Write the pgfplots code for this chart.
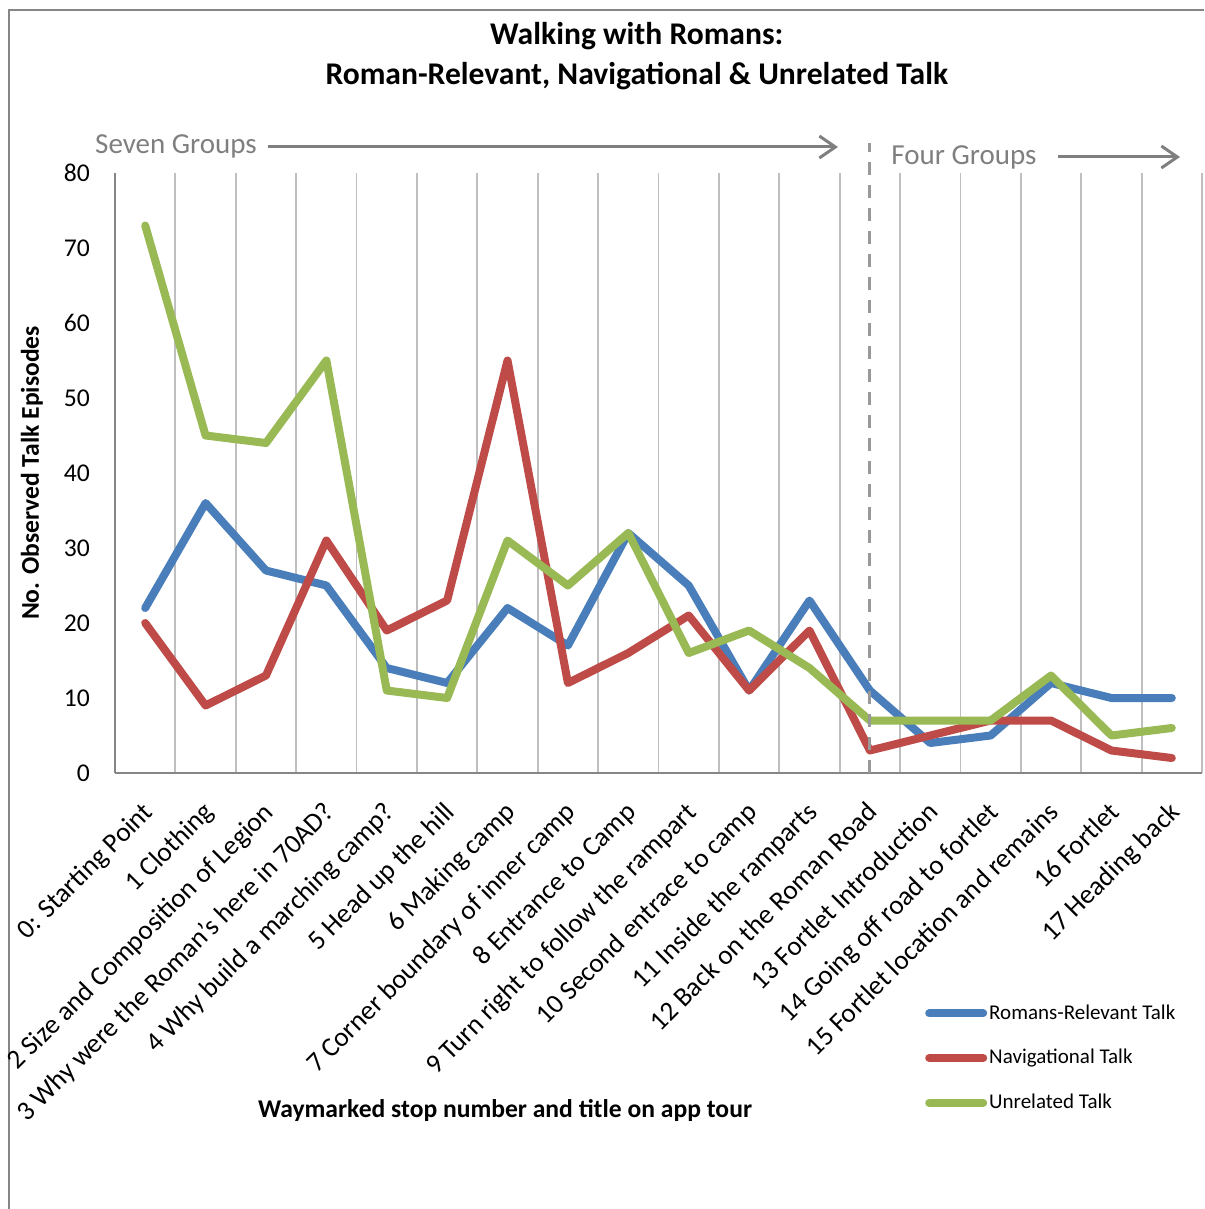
\documentclass[border=0pt]{standalone}
\usepackage{pgfplots}
\pgfplotsset{compat=1.18}
\usepackage{fontspec}
\setmainfont{Carlito}
\usetikzlibrary{arrows.meta}
\definecolor{cblue}{HTML}{4A7EBB}
\definecolor{cred}{HTML}{BE4B48}
\definecolor{cgreen}{HTML}{98B954}
\definecolor{gridgray}{HTML}{BFBFBF}
\definecolor{axisgray}{HTML}{868686}
\definecolor{anngray}{HTML}{7F7F7F}
\begin{document}
\begin{tikzpicture}
\path[use as bounding box] (0,0) rectangle (602pt,-604.5pt);
\draw[axisgray, line width=1pt] (4.5pt,-604.5pt) -- (4.5pt,-5pt) -- (602pt,-5pt);
\begin{axis}[
  at={(57.5pt,-386.5pt)}, anchor=south west,
  scale only axis, width=543.5pt, height=300pt,
  xmin=-0.5, xmax=17.5, ymin=0, ymax=80,
  clip=false,
  axis lines*=left,
  axis line style={axisgray, line width=1pt},
  xtick={0,...,17},
  xticklabels={
    {0: Starting Point},
    {1 Clothing},
    {2 Size and Composition of Legion},
    {3 Why were the Roman's here in 70AD?},
    {4 Why build a marching camp?},
    {5 Head up the hill},
    {6 Making camp},
    {7 Corner boundary of inner camp},
    {8 Entrance to Camp},
    {9 Turn right to follow the rampart},
    {10 Second entrace to camp},
    {11 Inside the ramparts},
    {12 Back on the Roman Road},
    {13 Fortlet Introduction},
    {14 Going off road to fortlet},
    {15 Fortlet location and remains},
    {16 Fortlet},
    {17 Heading back}},
  minor xtick={-0.5,0.5,...,17.5},
  xminorgrids,
  minor grid style={gridgray, line width=0.9pt},
  major tick length=0pt, minor tick length=0pt,
  ytick={0,10,...,80},
  /pgf/number format/assume math mode=true,
  tick label style={font=\fontsize{12.8}{14}\selectfont, black},
  xticklabel style={font=\fontsize{13.6}{15}\selectfont, rotate=45, anchor=north east, inner sep=1pt, xshift=-10pt, yshift=-7pt},
  yticklabel style={xshift=-9pt},
  title={Walking with Romans:\\Roman-Relevant, Navigational \& Unrelated Talk},
  title style={at={(axis description cs:0.48,1.175)}, anchor=center, align=center, font=\fontsize{15.8}{20}\selectfont\bfseries},
  xlabel={Waymarked stop number and title on app tour},
  every axis x label/.style={at={(axis description cs:0.3588,-0.5617)}, anchor=center, font=\fontsize{12.8}{14}\selectfont\bfseries},
  ylabel={No. Observed Talk Episodes},
  every axis y label/.style={at={(axis description cs:-0.0764,0.5)}, rotate=90, anchor=center, font=\fontsize{12.8}{14}\selectfont\bfseries},
  legend style={at={(axis description cs:0.745,-0.382)}, anchor=north west, draw=none, fill=none,
    font=\fontsize{10.5}{12}\selectfont, row sep=11.5pt, inner sep=0pt,
    nodes={inner sep=1pt, anchor=west}},
  legend cell align=left,
  legend image code/.code={\draw[#1, line width=4pt, line cap=round] (0pt,0pt) -- (27pt,0pt);},
  every axis plot/.append style={line width=4pt, line cap=round, line join=round, mark=none},
]
\addplot[cblue] coordinates {(0,22) (1,36) (2,27) (3,25) (4,14) (5,12) (6,22) (7,17) (8,32) (9,25) (10,11) (11,23) (12,11) (13,4) (14,5) (15,12) (16,10) (17,10)};
\addlegendentry{Romans-Relevant Talk}
\addplot[cred] coordinates {(0,20) (1,9) (2,13) (3,31) (4,19) (5,23) (6,55) (7,12) (8,16) (9,21) (10,11) (11,19) (12,3) (13,5) (14,7) (15,7) (16,3) (17,2)};
\addlegendentry{Navigational Talk}
\addplot[cgreen] coordinates {(0,73) (1,45) (2,44) (3,55) (4,11) (5,10) (6,31) (7,25) (8,32) (9,16) (10,19) (11,14) (12,7) (13,7) (14,7) (15,13) (16,5) (17,6)};
\addlegendentry{Unrelated Talk}
\draw[gridgray!80!black, line width=1.5pt, dash pattern=on 6.5pt off 5pt] (axis cs:12,0) -- (axis cs:12,84);
\end{axis}
\node[anngray, font=\fontsize{14.5}{16}\selectfont] at (88pt,-73pt) {Seven Groups};
\draw[anngray, line width=1.5pt, -{Straight Barb[length=8pt, width=11pt]}] (134pt,-73.5pt) -- (419pt,-73.5pt);
\node[anngray, font=\fontsize{14.5}{16}\selectfont] at (482pt,-78.5pt) {Four Groups};
\draw[anngray, line width=1.5pt, -{Straight Barb[length=8pt, width=11pt]}] (529pt,-78.5pt) -- (590pt,-78.5pt);
\end{tikzpicture}
\end{document}
